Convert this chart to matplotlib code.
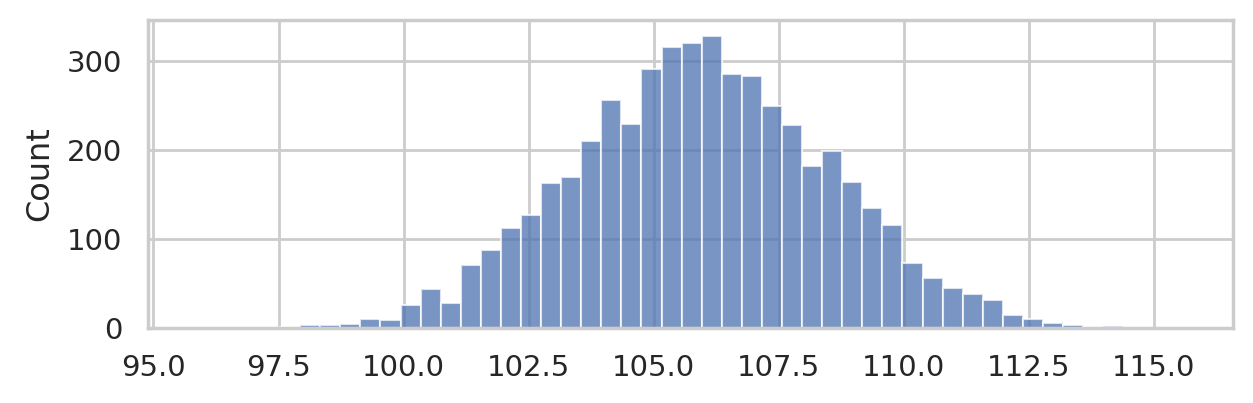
import numpy as np
import matplotlib
matplotlib.use("Agg")
import matplotlib.pyplot as plt
import seaborn as sns

# histogram counts, one per bin
counts = [1, 3, 3, 4, 10, 9, 26, 44, 28, 71, 88, 112, 127, 163, 169, 210,
          256, 229, 291, 315, 320, 328, 285, 283, 249, 228, 182, 199, 164,
          135, 116, 73, 56, 45, 38, 32, 15, 10, 6, 3, 1, 2]
bin_start = 97.53
bin_width = 0.4014
x_ticks = [95.0, 97.5, 100.0, 102.5, 105.0, 107.5, 110.0, 112.5, 115.0]
y_ticks = [0, 100, 200, 300]

sns.set_theme(style="whitegrid")
plt.rcParams["font.family"] = ["DejaVu Sans"]

fig = plt.figure(figsize=(1253 / 200, 403 / 200), dpi=200)
ax = fig.add_axes([0.1185, 0.186, 0.8655, 0.764])

edges = bin_start + bin_width * np.arange(len(counts))
ax.bar(edges, counts, width=bin_width, align="edge",
       color="#4c72b0", alpha=0.75, edgecolor="white", linewidth=0.75)

ax.set_xlim(94.9, 116.58)
ax.set_ylim(0, 345.3)
ax.set_xticks(x_ticks)
ax.set_xticklabels([f"{t:.1f}" for t in x_ticks])
ax.set_yticks(y_ticks)
ax.tick_params(labelsize=10.5)
ax.set_ylabel("Count", fontsize=11.5)

fig.savefig("out.png", dpi=200)
